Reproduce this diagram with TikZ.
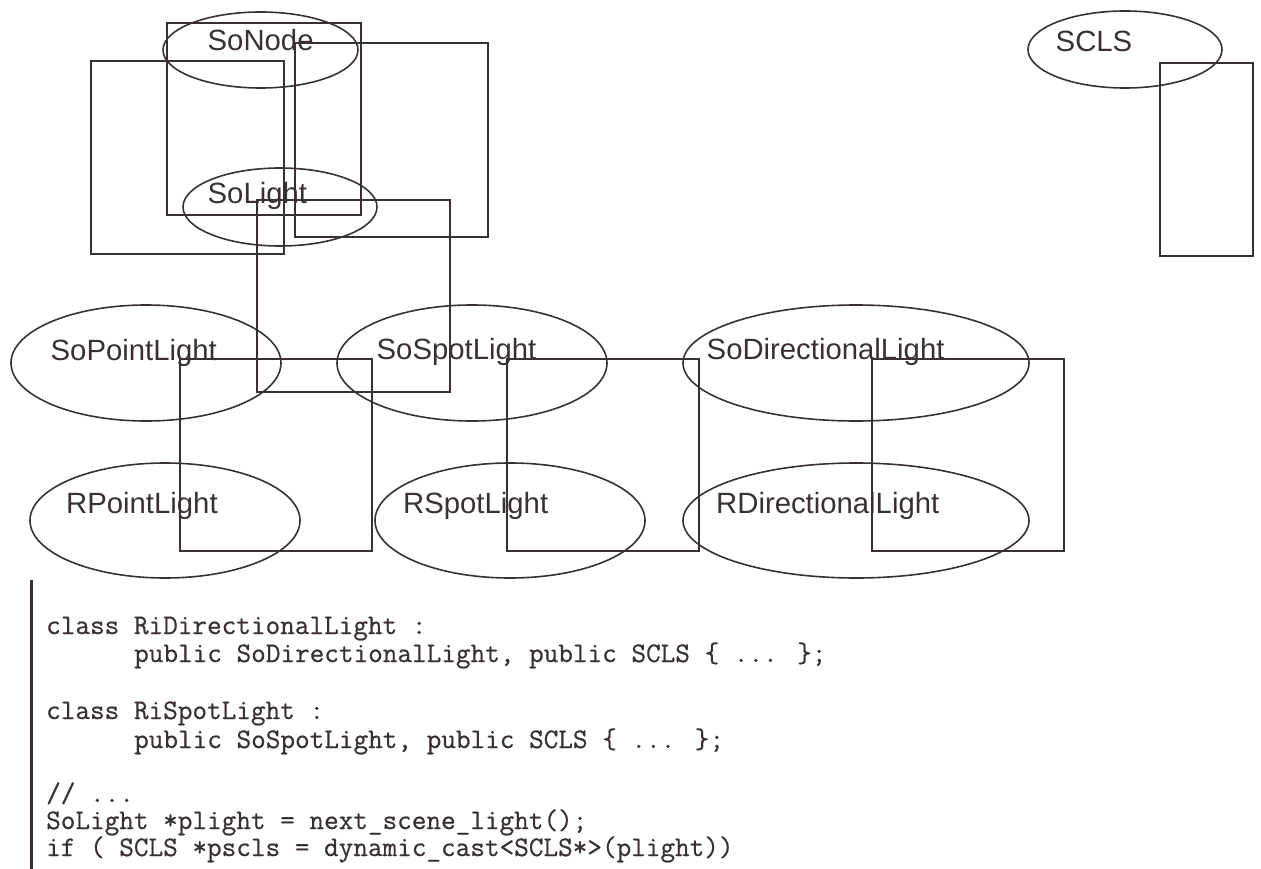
\documentclass[tikz,border=0pt]{standalone}
\usepackage{fontspec}
\setmainfont{Liberation Sans}
\newfontfamily\codefont[FakeBold=0.6]{Latin Modern Mono}
\usetikzlibrary{shapes.geometric}
\definecolor{ink}{RGB}{58,48,52}
\begin{document}
\begin{tikzpicture}[x=1pt,y=-1pt,
  cls/.style={draw=ink, line width=1.6pt, ellipse, inner sep=0pt},
  box/.style={draw=ink, line width=1.6pt, rectangle, inner sep=0pt},
  clsname/.style={anchor=base west, inner sep=0pt, text=ink,
    font=\fontsize{29.3}{34}\selectfont},
  codeline/.style={anchor=base west, inner sep=0pt, text=ink,
    font=\codefont\fontsize{28.4}{28}\selectfont}]
\useasboundingbox (0,0) rectangle (1261,869);

% class ellipses
\node[cls, minimum width=195pt, minimum height=76pt] (sonode)  at (260.5,50) {};
\node[cls, minimum width=194pt, minimum height=78pt] (solight) at (280,207) {};
\node[cls, minimum width=194pt, minimum height=77pt] (scls)    at (1125,49.5) {};
\node[cls, minimum width=270pt, minimum height=116pt] (sopoint) at (146,363) {};
\node[cls, minimum width=270pt, minimum height=116pt] (sospot)  at (472,363) {};
\node[cls, minimum width=346pt, minimum height=116pt] (sodir)   at (856,363) {};
\node[cls, minimum width=270pt, minimum height=115pt] (rpoint)  at (165,520.5) {};
\node[cls, minimum width=270pt, minimum height=115pt] (rspot)   at (510,520.5) {};
\node[cls, minimum width=346pt, minimum height=115pt] (rdir)    at (856,520.5) {};

% class names
\node[clsname] (sonode-t)  at (207.5,51)  {SoNode};
\node[clsname] (solight-t) at (207.5,204) {SoLight};
\node[clsname] (scls-t)    at (1055.5,52) {SCLS};
\node[clsname] (sopoint-t) at (50.5,360)  {SoPointLight};
\node[clsname] (sospot-t)  at (376.5,359) {SoSpotLight};
\node[clsname] (sodir-t)   at (706.5,359) {SoDirectionalLight};
\node[clsname] (rpoint-t)  at (66,513)    {RPointLight};
\node[clsname] (rspot-t)   at (403,513)   {RSpotLight};
\node[clsname] (rdir-t)    at (716,513)   {RDirectionalLight};

% rectangles
\node[box, minimum width=194pt, minimum height=192pt] (boxa) at (264,119) {};
\node[box, minimum width=193pt, minimum height=193pt] (boxb) at (187.5,157.5) {};
\node[box, minimum width=193pt, minimum height=194pt] (boxc) at (391.5,140) {};
\node[box, minimum width=193pt, minimum height=192pt] (boxd) at (353.5,296) {};
\node[box, minimum width=93pt,  minimum height=193pt] (boxe) at (1206.5,159.5) {};
\node[box, minimum width=192pt, minimum height=192pt] (boxf) at (276,455) {};
\node[box, minimum width=192pt, minimum height=192pt] (boxg) at (603,455) {};
\node[box, minimum width=192pt, minimum height=192pt] (boxh) at (968,455) {};

% code listing with its margin bar
\coordinate (bartop) at (31.5,580);
\coordinate (barbot) at (31.5,869);
\draw[ink, line width=2.2pt] (bartop) -- (barbot);

\node[codeline] (code1) at (46,634)  {class RiDirectionalLight :};
\node[codeline] (code2) at (134,662) {public SoDirectionalLight, public SCLS \{ ... \};};
\node[codeline] (code3) at (46,719)  {class RiSpotLight :};
\node[codeline] (code4) at (134,748) {public SoSpotLight, public SCLS \{ ... \};};
\node[codeline] (code5) at (46,802)  {// ...};
\node[codeline] (code6) at (46,829)  {SoLight *plight = next\_scene\_light();};
\node[codeline] (code7) at (46,856)  {if ( SCLS *pscls = dynamic\_cast<SCLS*>(plight))};
\end{tikzpicture}
\end{document}
